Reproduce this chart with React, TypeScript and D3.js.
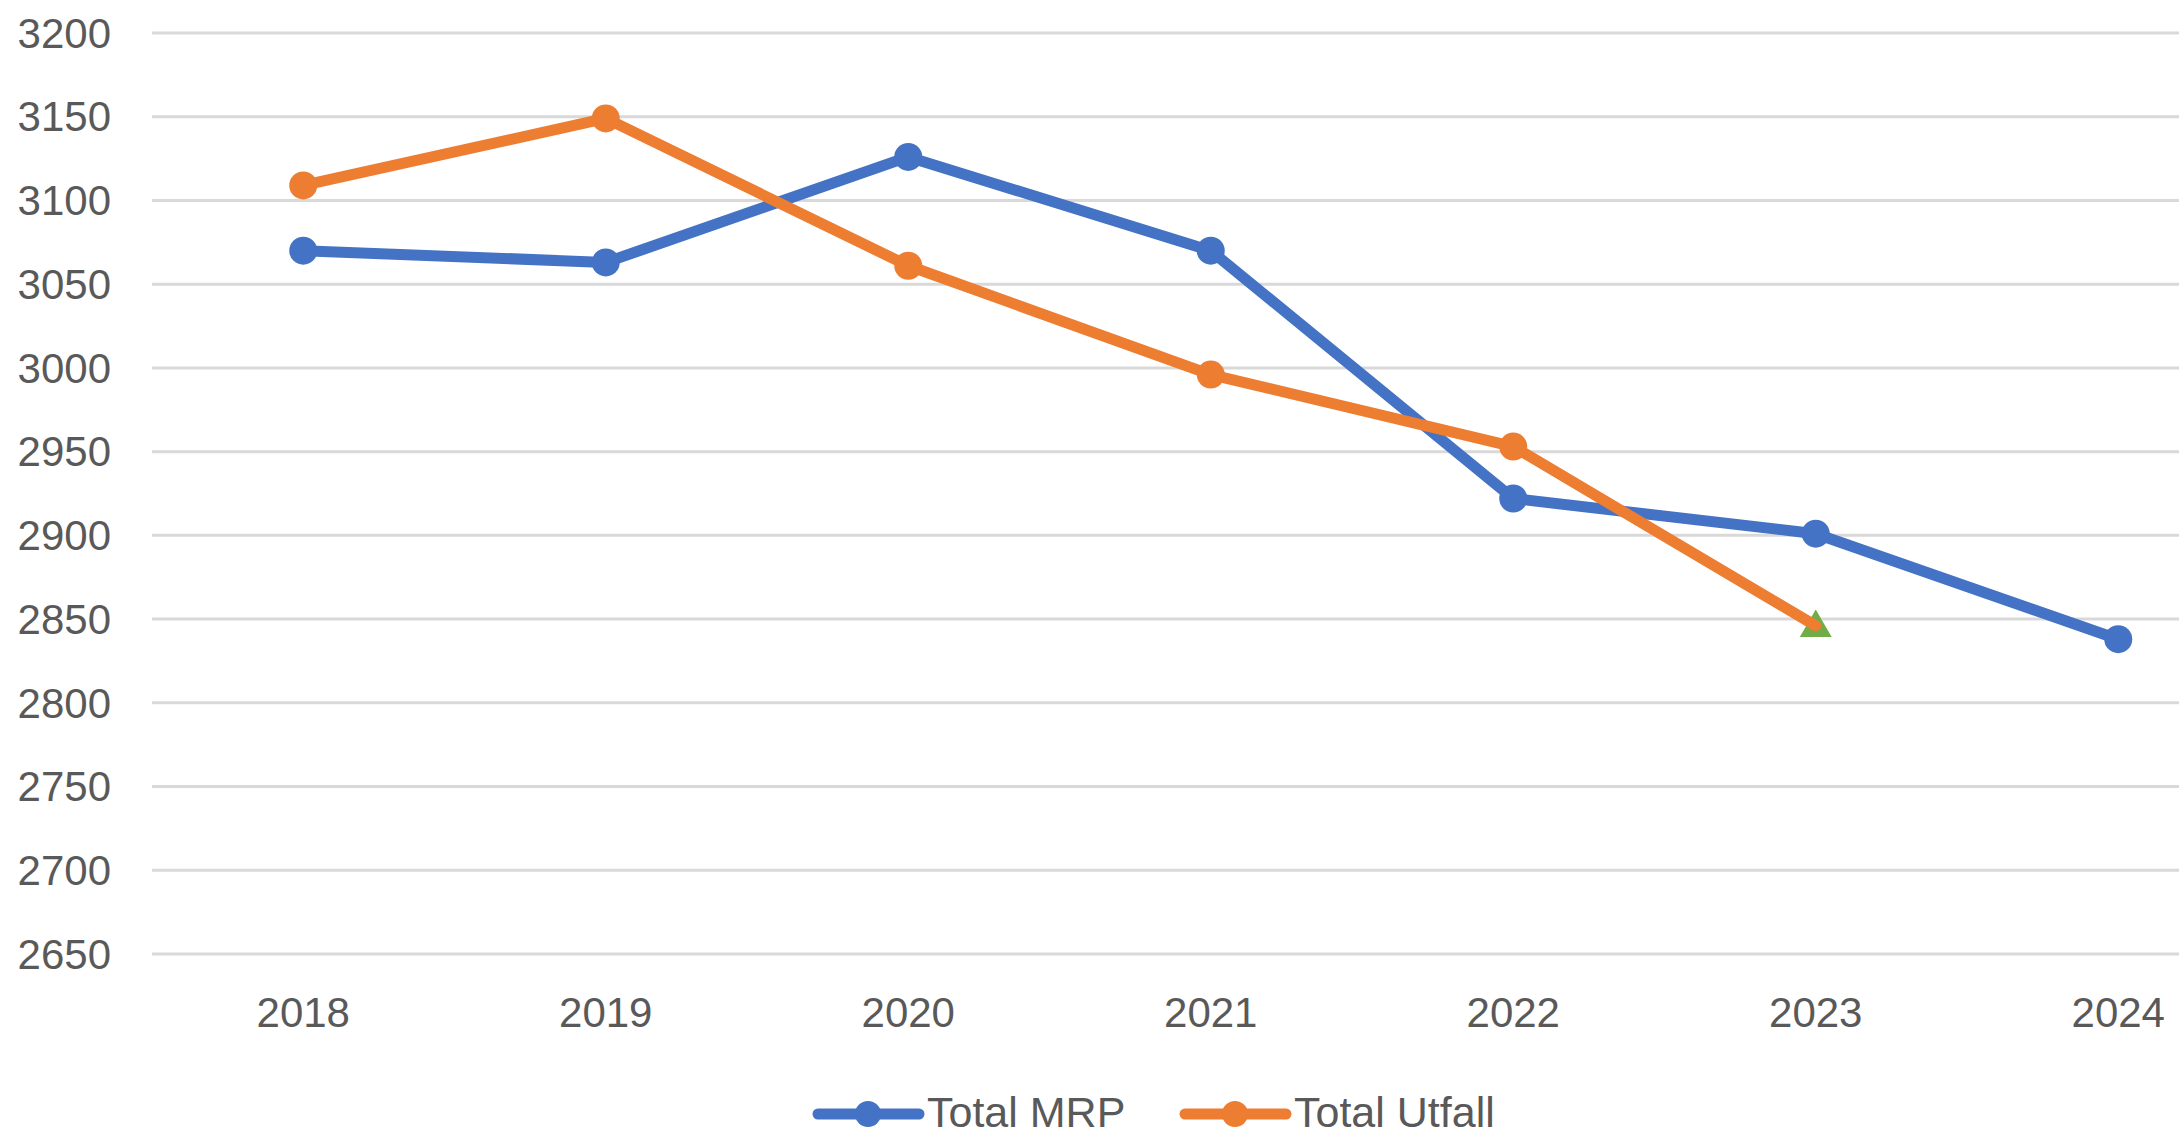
import React from "react";
import * as d3 from "d3";

const years = ["2018", "2019", "2020", "2021", "2022", "2023", "2024"];
const totalMRP = [3070, 3063, 3126, 3070, 2922, 2901, 2838];
const totalUtfall = [3109, 3149, 3061, 2996, 2953, 2846];
const yTicks = [2650, 2700, 2750, 2800, 2850, 2900, 2950, 3000, 3050, 3100, 3150, 3200];
const seriesNames = ["Total MRP", "Total Utfall"];

const W = 2179;
const H = 1136;
const BLUE = "#4472C4";
const ORANGE = "#ED7D31";
const GREEN = "#70AD47";
const TEXT = "#595959";
const FONT = "'Liberation Sans', Arial, sans-serif";

export default function App() {
  const x = d3.scaleBand<string>().domain(years).range([152, 152 + 7 * 302.5]);
  const y = d3.scaleLinear().domain([2650, 3200]).range([954, 33]);
  const cx = (d: string) => (x(d) as number) + x.bandwidth() / 2;

  const line = d3
    .line<number>()
    .x((_, i) => cx(years[i]))
    .y((v) => y(v));

  const lastU = totalUtfall.length - 1;
  const triX = cx(years[lastU]);
  const triY = y(totalUtfall[lastU]);
  const tri = d3.symbol().type(d3.symbolTriangle).size(440)();

  const legendX = [813, 1180];
  const legendY = 1114;

  return (
    <svg
      width={W}
      height={H}
      style={{ position: "absolute", left: 0, top: 0, background: "#fff" }}
      fontFamily={FONT}
    >
      {yTicks.map((t) => (
        <g key={t}>
          <line x1={152} x2={W} y1={y(t)} y2={y(t)} stroke="#d9d9d9" strokeWidth={3} />
          <text x={111} y={y(t)} dy="0.35em" textAnchor="end" fontSize={42} fill={TEXT}>
            {t}
          </text>
        </g>
      ))}
      {years.map((yr) => (
        <text key={yr} x={cx(yr)} y={1012} dy="0.35em" textAnchor="middle" fontSize={42} fill={TEXT}>
          {yr}
        </text>
      ))}

      <path d={line(totalMRP) || ""} fill="none" stroke={BLUE} strokeWidth={11} strokeLinejoin="round" strokeLinecap="round" />
      {totalMRP.map((v, i) => (
        <circle key={i} cx={cx(years[i])} cy={y(v)} r={14} fill={BLUE} />
      ))}

      <path transform={`translate(${triX},${triY + 2})`} d={tri || ""} fill={GREEN} />
      <path d={line(totalUtfall) || ""} fill="none" stroke={ORANGE} strokeWidth={11} strokeLinejoin="round" strokeLinecap="round" />
      {totalUtfall.slice(0, lastU).map((v, i) => (
        <circle key={i} cx={cx(years[i])} cy={y(v)} r={14} fill={ORANGE} />
      ))}

      {seriesNames.map((name, i) => {
        const lx = legendX[i];
        const color = i === 0 ? BLUE : ORANGE;
        return (
          <g key={name}>
            <line x1={lx + 5} x2={lx + 106} y1={legendY} y2={legendY} stroke={color} strokeWidth={11} strokeLinecap="round" />
            <circle cx={lx + 55} cy={legendY} r={13} fill={color} />
            <text x={lx + 114} y={legendY + 13} fontSize={43} fill={TEXT}>
              {name}
            </text>
          </g>
        );
      })}
    </svg>
  );
}
